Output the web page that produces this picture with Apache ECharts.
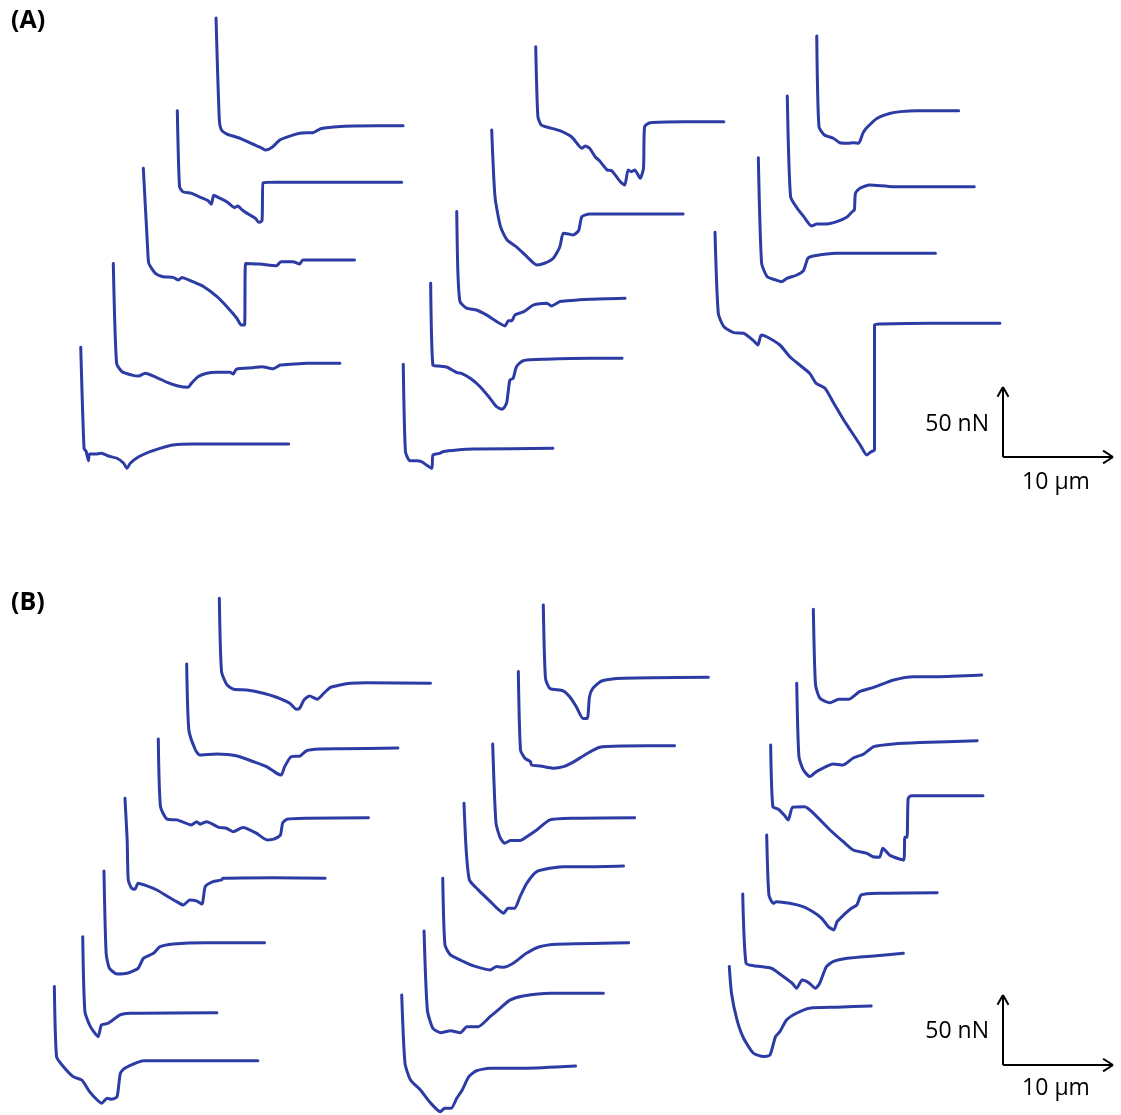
<!DOCTYPE html>
<html>
<head>
<meta charset="utf-8">
<script src="https://cdn.jsdelivr.net/npm/echarts/dist/echarts.min.js"></script>
<style>
html,body{margin:0;padding:0;background:#fff;}
#chart{width:1121px;height:1115px;}
</style>
</head>
<body>
<div id="chart"></div>
<script>
// force-distance curves, [distance from contact (µm), force relative to baseline (nN)]
// panel A
var curveA1 = [[0,76.9],[0.3,4.1],[0.5,-3.1],[1.0,-5.9],[2.2,-9.0],[3.2,-12.6],[4.2,-16.1],[4.5,-17.4],[5.1,-15.4],[5.8,-10.2],[6.7,-7.4],[7.6,-5.4],[8.2,-5.0],[8.8,-5.0],[9.5,-2.1],[11.0,-0.7],[12.5,-0.2],[17.0,0]];
var curveA2 = [[0,51.1],[0.2,-3.1],[0.5,-6.7],[1.3,-7.9],[2.1,-10.7],[2.8,-13.1],[3.1,-15.7],[3.3,-9.3],[3.7,-10.7],[4.5,-13.9],[5.2,-18.1],[5.5,-16.9],[5.9,-19.8],[6.6,-23.4],[7.1,-25.7],[7.4,-28.6],[7.7,-27.4],[7.8,-0.3],[9.0,0],[20.4,0]];
var curveA3 = [[0,65.5],[0.4,7.1],[0.5,-2.4],[1.1,-9.5],[1.8,-11.9],[2.7,-12.4],[3.2,-14.3],[3.5,-12.4],[4.5,-15.5],[5.5,-19.1],[6.7,-26.2],[7.6,-33.4],[8.5,-41.6],[8.9,-46.4],[9.2,-46.4],[9.3,-2.4],[10.6,-2.9],[12.1,-4.1],[12.5,-1.2],[13.6,-1.2],[14.2,-2.9],[14.5,0],[19.2,0]];
var curveA4 = [[0,71.4],[0.3,0],[0.8,-6.0],[1.7,-8.4],[2.3,-9.1],[2.9,-7.1],[3.8,-9.6],[4.9,-13.6],[5.8,-16.0],[6.8,-17.1],[7.1,-14.3],[7.7,-9.6],[8.5,-7.1],[9.4,-6.4],[10.6,-6.4],[10.9,-7.6],[11.2,-4.1],[12.7,-3.1],[13.5,-2.4],[14.5,-3.9],[15.2,-1.2],[16.4,-0.5],[17.6,0],[20.6,0]];
var curveA5 = [[0,69.1],[0.3,-3.1],[0.5,-5.5],[0.7,-11.9],[0.8,-7.1],[1.5,-7.1],[1.9,-6.6],[2.5,-8.6],[3.3,-10.2],[3.9,-13.8],[4.2,-17.4],[4.5,-13.8],[5.2,-9.5],[6.3,-5.5],[7.2,-3.1],[8.4,-0.7],[10.2,0],[18.9,0]];
var curveA6 = [[0,53.6],[0.2,3.6],[0.5,-2.4],[1.1,-4.0],[2.2,-6.4],[3.3,-11.1],[4.2,-19.0],[4.5,-17.4],[4.9,-19.0],[5.4,-25.0],[5.8,-27.9],[6.5,-34.5],[6.9,-35.0],[7.7,-42.9],[8.1,-45.2],[8.4,-34.5],[8.7,-35.7],[9.0,-34.5],[9.5,-40.4],[9.8,-33.3],[9.9,-3.6],[10.4,-0.7],[13.4,0],[17.1,0]];
var curveA7 = [[0,60.0],[0.3,12.4],[0.8,-9.1],[1.4,-18.6],[2.3,-23.8],[3.2,-30.5],[4.1,-36.4],[4.8,-35.2],[5.6,-31.6],[6.2,-23.4],[6.5,-13.8],[7.0,-14.3],[7.4,-15.0],[7.9,-11.9],[8.2,-1.9],[8.9,0],[17.4,0]];
var curveA8 = [[0,61.9],[0.1,20.2],[0.3,-2.4],[0.9,-7.1],[1.8,-8.4],[2.7,-11.9],[3.3,-15.0],[4.4,-19.8],[4.7,-16.0],[5.0,-16.0],[5.3,-11.9],[6.1,-9.6],[7.0,-4.8],[8.2,-3.6],[8.6,-5.5],[9.4,-2.4],[12.1,-0.7],[15.3,0]];
var curveA9 = [[0,53.6],[0.2,-4.8],[0.7,-5.5],[1.5,-6.4],[2.4,-10.3],[2.8,-10.7],[3.6,-14.3],[4.5,-20.3],[5.4,-28.6],[6.0,-34.6],[6.5,-36.4],[6.9,-32.1],[7.2,-15.5],[7.5,-14.3],[7.8,-6.0],[8.4,-1.7],[10.5,-0.7],[14.5,0],[17.4,0]];
var curveA10 = [[0,60.0],[0.2,-2.4],[0.6,-8.9],[1.2,-8.9],[1.7,-9.6],[2.1,-11.9],[2.6,-14.3],[2.7,-4.8],[3.3,-3.6],[3.6,-2.4],[4.9,-1.2],[6.4,-0.5],[13.6,0]];
var curveA11 = [[0,53.4],[0.2,-11.4],[0.7,-17.4],[1.5,-19.7],[2.1,-22.9],[2.9,-23.3],[3.3,-22.9],[3.8,-23.3],[4.2,-16.1],[4.5,-12.6],[5.5,-5.4],[6.7,-1.9],[7.6,-0.7],[9.1,0],[12.9,0]];
var curveA12 = [[0,64.8],[0.3,-7.1],[0.9,-15.4],[1.5,-21.4],[2.2,-28.1],[2.7,-26.6],[3.6,-26.6],[4.5,-25.0],[5.4,-21.9],[5.9,-17.9],[6.1,-16.6],[6.2,-4.7],[6.6,-1.1],[7.5,1.2],[9.6,0],[17.0,0]];
var curveA13 = [[0,68.3],[0.3,-7.1],[0.8,-16.7],[1.4,-18.6],[2.1,-20.3],[2.6,-17.9],[3.5,-15.5],[4.1,-12.4],[4.5,-3.6],[5.0,-1.9],[7.1,0],[16.1,0]];
var curveA14 = [[0,65.0],[0.3,7.1],[0.8,-2.4],[1.7,-6.7],[2.6,-7.1],[3.5,-12.4],[3.9,-15.5],[4.2,-8.4],[4.7,-9.6],[5.9,-15.5],[6.8,-23.9],[7.7,-29.8],[8.6,-35.7],[9.2,-42.9],[10.0,-46.4],[10.8,-57.1],[11.7,-69.1],[12.3,-76.2],[13.2,-86.9],[13.8,-94.1],[14.2,-91.7],[14.5,-90.5],[14.5,-1.2],[15.0,-0.5],[19.8,0],[25.9,0]];

// panel B
var curveB1 = [[0,60.7],[0.2,8.3],[0.7,-1.2],[1.3,-4.3],[2.5,-4.8],[4.0,-7.1],[5.2,-10.0],[6.4,-14.3],[7.0,-18.6],[7.3,-17.9],[7.7,-11.9],[8.2,-9.1],[8.9,-11.4],[9.5,-7.1],[10.1,-2.9],[11.0,-1.2],[11.9,0],[13.4,0.4],[19.2,0]];
var curveB2 = [[0,60.0],[0.2,12.9],[0.8,-1.4],[1.2,-5.0],[2.7,-4.3],[4.5,-5.5],[6.1,-9.8],[7.3,-13.4],[8.2,-18.1],[8.6,-19.3],[8.9,-13.4],[9.5,-6.2],[10.3,-5.7],[10.9,-1.9],[12.1,-0.7],[13.9,-0.5],[19.2,0]];
var curveB3 = [[0,56.2],[0.2,7.9],[0.8,-1.1],[1.7,-1.6],[3.0,-5.2],[3.5,-2.9],[3.8,-4.7],[4.4,-2.9],[5.5,-6.9],[6.2,-7.6],[6.8,-10.0],[7.7,-7.1],[8.9,-11.1],[9.9,-15.9],[10.5,-15.4],[11.1,-12.4],[11.3,-4.0],[11.7,-1.1],[13.5,-0.4],[19.1,0]];
var curveB4 = [[0,57.1],[0.2,27.4],[0.3,-1.2],[0.6,-7.1],[0.9,-7.9],[1.2,-3.6],[2.0,-5.5],[2.9,-8.4],[3.8,-12.6],[4.7,-16.7],[5.3,-19.1],[5.9,-15.5],[6.5,-16.2],[7.0,-18.4],[7.3,-6.0],[8.0,-2.4],[8.8,-1.2],[8.9,0],[13.5,0.4],[18.2,0]];
var curveB5 = [[0,51.2],[0.2,-7.6],[0.5,-18.3],[1.2,-22.4],[2.1,-21.9],[3.1,-18.3],[3.6,-11.1],[4.5,-7.6],[5.1,-2.9],[6.3,-0.9],[9.3,0],[14.6,0]];
var curveB6 = [[0,54.3],[0.2,0.7],[0.7,-10.0],[1.4,-17.1],[1.7,-8.8],[2.3,-7.6],[3.4,-1.6],[4.3,-0.4],[12.2,0]];
var curveB7 = [[0,52.9],[0.2,2.9],[0.7,-3.1],[1.7,-11.4],[2.5,-13.8],[3.2,-22.1],[3.9,-28.1],[4.3,-30.4],[4.8,-26.9],[5.2,-27.6],[5.7,-25.7],[6.0,-9.0],[6.4,-5.4],[7.5,-1.4],[8.1,0],[18.5,0]];
var curveB8 = [[0,51.6],[0.2,-0.7],[0.6,-7.9],[1.8,-9.6],[2.4,-13.9],[3.0,-21.0],[3.6,-29.3],[4.0,-29.3],[4.2,-13.9],[4.5,-7.9],[5.3,-2.6],[7.3,-0.7],[15.0,0]];
var curveB9 = [[0,52.9],[0.2,-3.1],[0.6,-9.0],[1.1,-11.4],[1.2,-13.8],[2.0,-14.5],[3.2,-16.1],[4.1,-15.0],[4.9,-12.1],[6.2,-5.9],[7.4,-1.1],[9.5,-0.2],[14.2,0]];
var curveB10 = [[0,52.6],[0.3,-4.0],[0.7,-14.7],[1.1,-18.3],[1.6,-16.4],[2.5,-16.4],[3.1,-13.6],[4.0,-8.8],[5.2,-1.6],[7.3,-0.4],[12.9,0]];
var curveB11 = [[0,44.8],[0.2,11.4],[0.5,-10.0],[1.3,-17.1],[2.4,-25.5],[3.1,-30.9],[3.6,-33.8],[4.0,-30.2],[4.6,-30.2],[5.1,-21.9],[5.7,-12.4],[6.6,-4.1],[7.8,-1.6],[9.0,-0.5],[11.5,-0.5],[14.5,0]];
var curveB12 = [[0,46.0],[0.2,-1.6],[0.7,-8.8],[1.9,-13.6],[2.8,-16.6],[4.3,-19.5],[4.9,-17.1],[5.5,-17.6],[6.4,-14.7],[7.6,-7.6],[8.8,-2.9],[10.4,-1.1],[16.9,0]];
var curveB13 = [[0,44.5],[0.3,-11.9],[0.8,-25.0],[1.5,-28.1],[2.4,-26.7],[3.3,-28.1],[3.9,-23.9],[4.9,-23.9],[6.0,-16.7],[6.9,-10.7],[7.8,-4.8],[9.0,-1.9],[11.5,0],[16.3,0]];
var curveB14 = [[0,50.7],[0.3,1.9],[0.8,-10.0],[1.7,-17.1],[2.6,-26.2],[3.5,-32.6],[3.9,-30.2],[4.5,-30.2],[5.0,-23.1],[5.5,-17.1],[6.1,-7.6],[6.8,-3.4],[8.0,-1.6],[11.1,-1.6],[15.8,0]];
var curveB15 = [[0,46.9],[0.2,-7.1],[0.6,-16.6],[1.5,-19.8],[2.3,-17.4],[3.2,-17.4],[4.2,-11.9],[5.5,-8.8],[7.3,-3.6],[9.1,-1.2],[11.2,-1.2],[15.3,0]];
var curveB16 = [[0,41.0],[0.2,-11.4],[0.6,-20.9],[1.2,-25.7],[1.8,-22.1],[3.3,-16.6],[4.2,-17.4],[5.1,-12.6],[6.1,-9.5],[7.0,-4.3],[8.8,-2.4],[11.2,-1.4],[16.4,0]];
var curveB17 = [[0,36.2],[0.2,-7.9],[0.7,-9.7],[1.3,-14.5],[1.6,-17.4],[2.0,-8.3],[3.1,-7.9],[3.9,-12.6],[5.4,-24.5],[6.6,-32.9],[7.5,-38.8],[8.7,-41.1],[9.3,-43.6],[9.9,-44.0],[10.2,-37.6],[10.8,-42.4],[11.5,-44.7],[12.1,-45.9],[12.2,-29.7],[12.4,-29.7],[12.5,-1.9],[12.8,0],[19.3,0]];
var curveB18 = [[0,41.2],[0.2,-1.6],[0.6,-7.6],[0.9,-6.4],[2.1,-7.6],[3.3,-10.0],[4.2,-13.6],[5.0,-18.3],[5.6,-24.3],[6.1,-26.6],[6.4,-20.7],[7.0,-15.9],[7.7,-11.1],[8.2,-8.8],[8.6,-1.6],[10.3,-0.4],[15.5,0]];
var curveB19 = [[0,42.4],[0.3,-7.1],[1.0,-8.9],[2.6,-10.7],[3.5,-15.5],[4.5,-21.4],[4.9,-25.0],[5.4,-19.1],[6.0,-21.0],[6.6,-25.0],[7.0,-21.4],[7.6,-9.6],[8.2,-6.0],[9.5,-3.6],[11.9,-1.9],[14.6,0]];
var curveB20 = [[0,28.1],[0.2,9.1],[0.7,-10.0],[1.3,-23.1],[2.2,-33.8],[3.1,-36.2],[3.7,-35.0],[4.2,-21.9],[4.6,-18.4],[5.2,-10.0],[6.1,-5.2],[7.3,-1.6],[9.8,-0.9],[12.9,0]];

// scale bar lengths
var scaleBar = {dist: 10, force: 50, distLabel: '10 µm', forceLabel: '50 nN'};

// layout: where each curve's contact point / baseline sits on the page [µm, nN]
var placement = [
  [curveA1,[19.64,706.6]],[curveA2,[16.12,666.2]],[curveA3,[13.03,610.7]],[curveA4,[10.30,536.9]],[curveA5,[7.34,479.3]],
  [curveA6,[48.70,709.5]],[curveA7,[44.70,643.6]],[curveA8,[41.52,583.4]],[curveA9,[39.15,540.5]],[curveA10,[36.66,476.2]],
  [curveA11,[74.25,717.4]],[curveA12,[71.57,663.1]],[curveA13,[68.94,615.5]],[curveA14,[65.00,565.5]],
  [curveB1,[19.94,308.4]],[curveB2,[16.97,262.1]],[curveB3,[14.39,212.4]],[curveB4,[11.36,169.1]],[curveB5,[9.45,123.1]],[curveB6,[7.52,73.1]],[curveB7,[4.94,38.8]],
  [curveB8,[49.39,312.6]],[curveB9,[47.12,263.8]],[curveB10,[44.79,212.4]],[curveB11,[42.18,177.9]],[curveB12,[40.25,123.1]],[curveB13,[38.55,86.9]],[curveB14,[36.52,35.0]],
  [curveB15,[73.94,314.3]],[curveB16,[72.43,267.4]],[curveB17,[70.06,228.1]],[curveB18,[69.70,158.8]],[curveB19,[67.52,115.5]],[curveB20,[66.30,77.9]]
];
var scaleCorners = [[91.18,470.0],[91.18,35.7]];

var W = 1121, H = 1115;
var pxPerUm = 11, pxPerNn = 1.4;
var lineColor = '#2c3ca4';

var chart = echarts.init(document.getElementById('chart'));

var series = placement.map(function (p) {
  var off = p[1];
  return {
    type: 'line',
    showSymbol: false,
    symbol: 'none',
    silent: true,
    smooth: 0.2,
    lineStyle: {color: lineColor, width: 3, join: 'round', cap: 'round'},
    data: p[0].map(function (d) { return [d[0] + off[0], d[1] + off[1]]; })
  };
});

// scale bars with open arrow heads
var barLines = [];
scaleCorners.forEach(function (c) {
  var top = [c[0], c[1] + scaleBar.force];
  var right = [c[0] + scaleBar.dist, c[1]];
  barLines.push([{coord: c}, {coord: top}]);
  barLines.push([{coord: c}, {coord: right}]);
  barLines.push([{coord: top}, {coord: [top[0] - 0.5, top[1] - 7]}]);
  barLines.push([{coord: top}, {coord: [top[0] + 0.5, top[1] - 7]}]);
  barLines.push([{coord: right}, {coord: [right[0] - 0.9, right[1] + 4.5]}]);
  barLines.push([{coord: right}, {coord: [right[0] - 0.9, right[1] - 4.5]}]);
});
series.push({
  type: 'line',
  data: [],
  markLine: {
    silent: true,
    symbol: ['none', 'none'],
    animation: false,
    label: {show: false},
    lineStyle: {color: '#000', width: 2, type: 'solid'},
    data: barLines
  }
});

var txt = {fill: '#000', fontFamily: 'Open Sans', fontSize: 23};
var option = {
  animation: false,
  backgroundColor: '#fff',
  grid: {left: 0, right: 0, top: 0, bottom: 0},
  xAxis: {type: 'value', min: 0, max: W / pxPerUm, show: false},
  yAxis: {type: 'value', min: 0, max: H / pxPerNn, show: false},
  graphic: [
    {type: 'text', left: 11, top: 8, style: {text: '(A)', fill: '#000', fontFamily: 'Open Sans', fontWeight: 'bold', fontSize: 25}},
    {type: 'text', left: 11, top: 590, style: {text: '(B)', fill: '#000', fontFamily: 'Open Sans', fontWeight: 'bold', fontSize: 25}},
    {type: 'text', x: 989, y: 424, style: Object.assign({text: scaleBar.forceLabel, align: 'right', verticalAlign: 'middle'}, txt)},
    {type: 'text', x: 1056, y: 482, style: Object.assign({text: scaleBar.distLabel, align: 'center', verticalAlign: 'middle'}, txt)},
    {type: 'text', x: 989, y: 1031, style: Object.assign({text: scaleBar.forceLabel, align: 'right', verticalAlign: 'middle'}, txt)},
    {type: 'text', x: 1056, y: 1088, style: Object.assign({text: scaleBar.distLabel, align: 'center', verticalAlign: 'middle'}, txt)}
  ],
  series: series
};
chart.setOption(option);
window.onresize = function () { chart.resize(); };
</script>
</body>
</html>
